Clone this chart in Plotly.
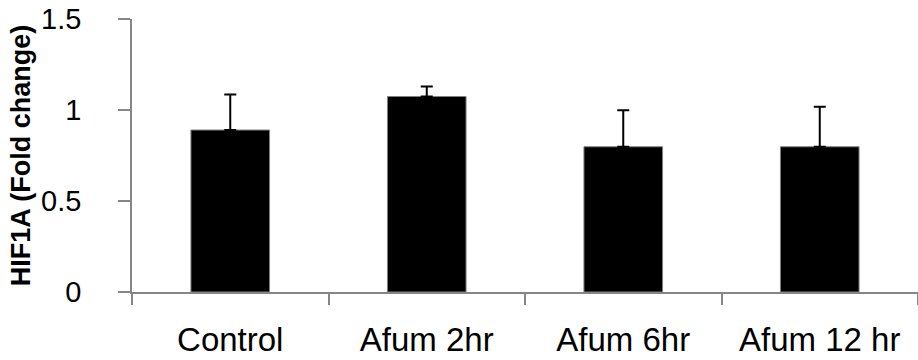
import plotly.graph_objects as go

categories = ["Control", "Afum 2hr", "Afum 6hr", "Afum 12 hr"]
values = [0.89, 1.074, 0.798, 0.798]
errors = [0.195, 0.055, 0.201, 0.22]
y_ticks = [0, 0.5, 1, 1.5]
y_tick_labels = ["0", "0.5", "1", "1.5"]

axis_color = "#868686"
font_family = "Liberation Sans, Arial, sans-serif"

fig = go.Figure(
    go.Bar(
        x=categories,
        y=values,
        width=0.4,
        marker=dict(color="black", line=dict(color="#808080", width=1)),
        error_y=dict(type="data", array=errors, symmetric=False, arrayminus=[0] * 4,
                     color="black", thickness=2, width=6),
    )
)

fig.update_layout(
    width=918,
    height=360,
    margin=dict(l=132, r=0, t=19, b=68),
    plot_bgcolor="white",
    paper_bgcolor="white",
    showlegend=False,
    font=dict(family=font_family, color="black"),
)

fig.update_xaxes(
    type="category",
    range=[-0.5, 3.5],
    showline=True,
    linecolor=axis_color,
    linewidth=1.5,
    ticks="outside",
    tickson="boundaries",
    ticklen=11,
    tickcolor=axis_color,
    tickwidth=1.5,
    tickfont=dict(size=33, family=font_family, color="black"),
    ticklabelstandoff=18,
    showgrid=False,
    zeroline=False,
)

fig.update_yaxes(
    range=[0, 1.5],
    tickvals=y_ticks,
    ticktext=y_tick_labels,
    showline=True,
    linecolor=axis_color,
    linewidth=1.5,
    ticks="outside",
    ticklen=12,
    tickcolor=axis_color,
    tickwidth=1.5,
    tickfont=dict(size=29, family=font_family, color="black"),
    ticklabelstandoff=31,
    showgrid=False,
    zeroline=False,
    title=dict(text="<b>HIF1A (Fold change)</b>", font=dict(size=27, family=font_family, color="black"), standoff=3),
)

fig.write_html("out.html")
